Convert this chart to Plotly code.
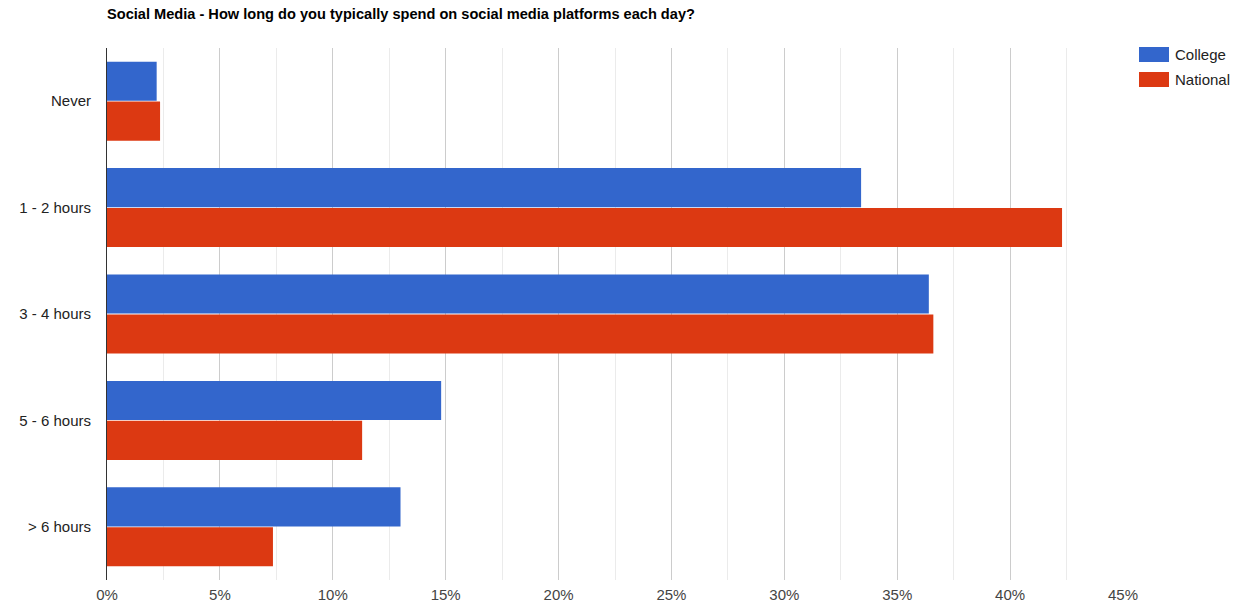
import plotly.graph_objects as go

# Survey answers: share of respondents by daily time on social media
categories = ["Never", "1 - 2 hours", "3 - 4 hours", "5 - 6 hours", "> 6 hours"]
college = [0.022, 0.334, 0.364, 0.148, 0.130]
national = [0.0235, 0.423, 0.366, 0.113, 0.0735]
tick_values = [0, 0.05, 0.10, 0.15, 0.20, 0.25, 0.30, 0.35, 0.40, 0.45]
tick_labels = ["0%", "5%", "10%", "15%", "20%", "25%", "30%", "35%", "40%", "45%"]
series = [("College", college, "#3366cc"), ("National", national, "#dc3912")]

FONT = "Liberation Sans, Arial, sans-serif"
W, H = 1250, 605
M_L, M_R, M_T, M_B = 107, 127, 48, 25

fig = go.Figure()
for name, values, color in series:
    fig.add_trace(go.Bar(
        name=name, y=categories, x=values, orientation="h",
        marker=dict(color=color, line=dict(width=0)),
        showlegend=False,
    ))

# Legend on the right: wide colour swatches with the series name beside them
plot_w = W - M_L - M_R
plot_h = H - M_T - M_B
shapes, annotations = [], []
for i, (name, _, color) in enumerate(series):
    top_px = 47 + i * 25
    x0 = 1 + (1139 - M_L - plot_w) / plot_w
    x1 = 1 + (1169 - M_L - plot_w) / plot_w
    y0 = 1 - (top_px - M_T) / plot_h
    y1 = 1 - (top_px + 15 - M_T) / plot_h
    shapes.append(dict(type="rect", xref="paper", yref="paper",
                       x0=x0, x1=x1, y0=y1, y1=y0,
                       fillcolor=color, line=dict(width=0)))
    annotations.append(dict(xref="paper", yref="paper",
                            x=1 + (1173 - M_L - plot_w) / plot_w,
                            y=1 - (top_px + 7.5 - M_T) / plot_h,
                            xanchor="left", yanchor="middle", showarrow=False,
                            text=name, font=dict(family=FONT, size=15, color="#222")))

fig.update_layout(
    width=W, height=H,
    margin=dict(l=M_L, r=M_R, t=M_T, b=M_B),
    paper_bgcolor="white", plot_bgcolor="white",
    barmode="group", bargap=0.25, bargroupgap=0.02,
    font=dict(family=FONT, size=15, color="#222"),
    title=dict(
        text="<b>Social Media - How long do you typically spend on social media platforms each day?</b>",
        font=dict(family=FONT, size=14.6, color="#000"),
        x=M_L / W, xref="container", xanchor="left",
        y=1 - 14 / H, yref="container", yanchor="middle",
    ),
    showlegend=False,
    shapes=shapes,
    annotations=annotations,
    xaxis=dict(
        range=[0, 0.45], tickvals=tick_values, ticktext=tick_labels,
        showgrid=True, gridcolor="#cccccc", gridwidth=1,
        minor=dict(dtick=0.025, showgrid=True, gridcolor="#ebebeb", gridwidth=1),
        zeroline=False, showline=False, ticks="", automargin=False,
        ticklabelstandoff=4,
        tickfont=dict(family=FONT, size=15, color="#444"),
    ),
    yaxis=dict(
        autorange="reversed", showgrid=False, zeroline=False,
        showline=True, linecolor="#333", linewidth=1, ticks="",
        automargin=False, ticklabelstandoff=12,
        tickfont=dict(family=FONT, size=15, color="#222"),
    ),
)

fig.write_html("out.html")
